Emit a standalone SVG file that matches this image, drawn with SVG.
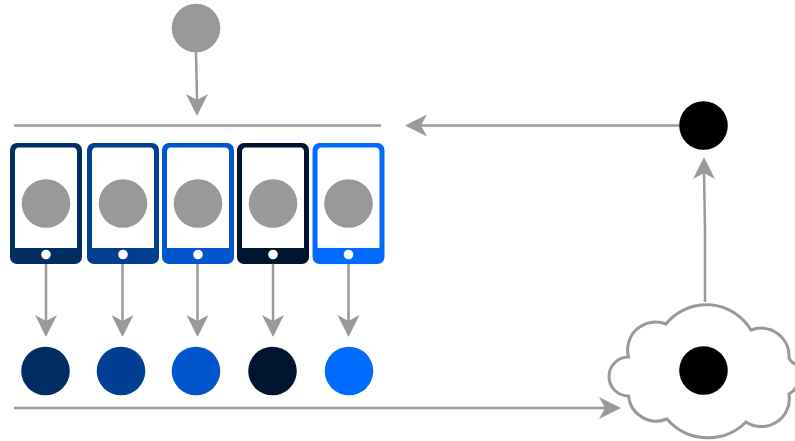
<svg xmlns="http://www.w3.org/2000/svg" width="795" height="441" viewBox="0 0 795 441">
<style>
.c{fill:none;stroke:#999;stroke-width:2.5}
.h{fill:#999}
.g{fill:#999}
.b{fill:#fff}
</style>
<defs>
<path id="ar" class="h" d="M0 0L22 -11L16 0L22 11Z"/>
<g id="phone">
<rect x="0" y="0" width="72" height="121" rx="7"/>
<path class="b" d="M9 4.500H63Q67 4.500 67 9V105H5V9Q5 4.500 9 4.500Z"/>
<circle class="b" cx="36" cy="111.500" r="4.800"/>
<circle class="g" cx="36" cy="60.500" r="24.300"/>
</g>
</defs>
<rect width="795" height="441" fill="#fff"/>
<g id="connectors">
<path class="c" d="M196 52L197 100"/>
<use href="#ar" transform="translate(197 116) rotate(-90)"/>
<path class="c" d="M14 125.500H381"/>
<path class="c" d="M679 125.500H420"/>
<use href="#ar" transform="translate(405 125.500)"/>
<path class="c" d="M705 302V232L704 172"/>
<use href="#ar" transform="translate(704 157) rotate(90)"/>
<path class="c" d="M46 264V322"/>
<use href="#ar" transform="translate(46 337) rotate(-90)"/>
<path class="c" d="M122.500 264V322"/>
<use href="#ar" transform="translate(122.500 337) rotate(-90)"/>
<path class="c" d="M197.500 264V322"/>
<use href="#ar" transform="translate(197.500 337) rotate(-90)"/>
<path class="c" d="M273 264V322"/>
<use href="#ar" transform="translate(273 337) rotate(-90)"/>
<path class="c" d="M348.500 264V322"/>
<use href="#ar" transform="translate(348.500 337) rotate(-90)"/>
<path class="c" d="M14 408H606"/>
<use href="#ar" transform="translate(621 408) rotate(180)"/>
</g>
<g id="source"><circle class="g" cx="196" cy="28" r="24.300"/></g>
<g id="phone1" fill="#002d62"><use href="#phone" x="10" y="143"/></g>
<g id="phone2" fill="#003f91"><use href="#phone" x="87" y="143"/></g>
<g id="phone3" fill="#0057cc"><use href="#phone" x="162" y="143"/></g>
<g id="phone4" fill="#00132f"><use href="#phone" x="237" y="143"/></g>
<g id="phone5" fill="#006cff"><use href="#phone" x="312.500" y="143"/></g>
<g id="dot1"><circle cx="45.500" cy="371" r="24.300" fill="#002d62"/></g>
<g id="dot2"><circle cx="121" cy="371" r="24.300" fill="#003f91"/></g>
<g id="dot3"><circle cx="196" cy="371" r="24.300" fill="#0057cc"/></g>
<g id="dot4"><circle cx="272.500" cy="371" r="24.300" fill="#00132f"/></g>
<g id="dot5"><circle cx="349" cy="371" r="24.300" fill="#006cff"/></g>
<g id="top-right"><circle cx="703.500" cy="125.500" r="24.300" fill="#000"/></g>
<g id="cloud">
<path d="M666 324A52 52 0 0 1 751 330A28 28 0 0 1 789 358Q790 361 795 364A20 20 0 0 1 789 394A28 28 0 0 1 746 422A54 54 0 0 1 667 419A28 28 0 0 1 628.500 396A19.500 19.500 0 0 1 628.500 357A28 28 0 0 1 666 324Z" fill="#fff" stroke="#999" stroke-width="3"/>
<circle cx="703.500" cy="370.500" r="24.300" fill="#000"/>
</g>
</svg>
